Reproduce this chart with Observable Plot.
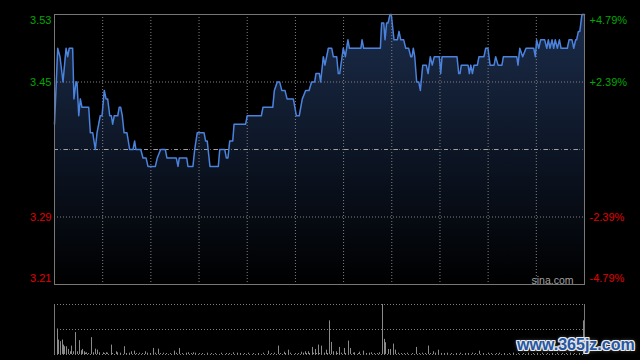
<!DOCTYPE html>
<html><head><meta charset="utf-8">
<script src="https://cdn.jsdelivr.net/npm/d3@7"></script>
<script src="https://cdn.jsdelivr.net/npm/@observablehq/plot@0.6"></script>
<style>
html,body{margin:0;padding:0;background:#000;overflow:hidden}
#wrap{position:relative;width:640px;height:360px;background:#000}
#main{position:absolute;left:0;top:0}
#vol{position:absolute;left:0;top:290px}
#wm{position:absolute;left:517px;top:337px;font:bold 16px "Liberation Sans",Arial,sans-serif;line-height:16px;color:#2456a4;white-space:nowrap;
text-shadow:1px 0 0 #e8e8e8,-1px 0 0 #e8e8e8,0 1px 0 #e8e8e8,0 -1px 0 #e8e8e8,1px 1px 0 #e8e8e8,-1px -1px 0 #e8e8e8,1px -1px 0 #e8e8e8,-1px 1px 0 #e8e8e8,0 0 4px #999}
</style></head><body>
<div id="wrap"><div id="main"></div><div id="vol"></div><div id="wm">www.365jz.com</div></div>
<script>
// ---- data (minute of session 0..330, price) ----
const sessionMinutes = [0, 330];
const basePrice = 3.37;
const priceTicks = [3.53, 3.45, 3.29, 3.21];
const priceLabels = ["3.53", "3.45", "3.29", "3.21"];
const pctLabels = ["+4.79%", "+2.39%", "-2.39%", "-4.79%"];
const gridMinutes = [30, 60, 90, 120, 150, 180, 210, 240, 270, 300];
const priceDomain = [3.21, 3.53];

const pricePoints = [
  [0,3.40],[2,3.49],[3.4,3.48],[5.3,3.45],[7.2,3.49],[8.2,3.48],[9.2,3.49],[11.3,3.49],
  [12.1,3.43],[13.4,3.45],[14,3.45],[15.1,3.41],[16.1,3.43],[17.1,3.42],[21.3,3.42],
  [22.3,3.39],[23.8,3.39],[25.4,3.37],[26.5,3.39],[28.5,3.41],[29.6,3.41],[31,3.44],
  [32.1,3.43],[33.1,3.43],[34.4,3.41],[35.4,3.41],[36.2,3.40],[37.2,3.41],[39.4,3.41],
  [40.3,3.42],[41.2,3.42],[42.2,3.41],[43.3,3.39],[45.1,3.39],[46.8,3.37],[48.9,3.37],
  [49.9,3.38],[50.7,3.37],[53.7,3.37],[55.1,3.36],[57,3.36],[58.2,3.35],[62.8,3.35],
  [64,3.36],[66.1,3.37],[69,3.37],[70,3.36],[75.8,3.36],[76.9,3.35],[77.7,3.36],
  [82.3,3.36],[83.1,3.35],[86.2,3.35],[87.3,3.37],[88.9,3.39],[93.1,3.39],[94.1,3.38],
  [95.1,3.38],[96.8,3.35],[102,3.35],[102.9,3.37],[106,3.37],[107,3.36],[108,3.36],
  [109.1,3.38],[111,3.38],[111.8,3.40],[119,3.40],[120,3.41],[128.8,3.41],[129.8,3.42],
  [135.9,3.42],[136.9,3.44],[138.7,3.45],[140.2,3.45],[141.5,3.44],[143.5,3.44],
  [144.8,3.43],[148.7,3.43],[150.6,3.41],[152.4,3.41],[154.3,3.43],[156.4,3.44],
  [158.5,3.44],[160.1,3.45],[162,3.45],[162.8,3.46],[164.9,3.46],[165.7,3.45],
  [167.4,3.48],[168.4,3.47],[170.5,3.49],[172.6,3.49],[173.6,3.48],[175.7,3.48],
  [176.7,3.46],[177.6,3.46],[179.8,3.49],[181.1,3.48],[182.7,3.50],[183.6,3.49],
  [190.8,3.49],[191.5,3.50],[192.5,3.49],[202.9,3.49],[203.7,3.52],[205,3.52],
  [205.8,3.50],[206.8,3.52],[207.7,3.52],[208.9,3.53],[209.7,3.53],[211.4,3.50],
  [213.5,3.50],[214.5,3.51],[215.6,3.50],[217.4,3.50],[218.7,3.49],[220.5,3.49],
  [221.8,3.48],[222.6,3.48],[223.4,3.49],[224.3,3.48],[225.5,3.45],[226.8,3.45],
  [227.8,3.44],[229.3,3.47],[231.5,3.47],[232.6,3.46],[234,3.48],[235.2,3.47],
  [236.5,3.48],[239.6,3.48],[240.5,3.46],[241.3,3.48],[247.5,3.48],[250.6,3.48],
  [251.7,3.46],[252.5,3.46],[253.3,3.47],[257.5,3.47],[258.3,3.46],[259.2,3.47],
  [260.2,3.46],[261.2,3.47],[263.3,3.47],[264.3,3.48],[267.4,3.48],[268.5,3.49],
  [269.9,3.49],[271.2,3.47],[273.7,3.47],[274.7,3.48],[276.2,3.47],[278.6,3.47],
  [279.5,3.48],[287.8,3.48],[288.6,3.47],[289.7,3.49],[291.5,3.48],[293.6,3.49],
  [298.4,3.49],[299.4,3.48],[300.2,3.50],[301.5,3.49],[302.7,3.50],[305.2,3.50],
  [306.5,3.49],[307.5,3.50],[308.5,3.49],[309.8,3.50],[310.8,3.49],[311.8,3.50],
  [313.1,3.49],[314.4,3.50],[315.4,3.49],[319.3,3.49],[320.4,3.50],[322.2,3.50],
  [323.3,3.49],[324.5,3.50],[325.1,3.50],[326.2,3.51],[327.1,3.51],[328.4,3.53],
  [330,3.53]
];

// volume (minute, volume units)
const volumeMax = 49.5;
const volumeBars = [
  [1.7,25.3],[2.8,14.3],[3.6,12.7],[4.7,14.3],[5.5,9.3],[6.5,7.7],[7.6,7.7],[8.6,5],
  [9.7,2.7],[10.5,8.3],[11.7,2.7],[13.0,21.7],[14.2,2.7],[15.4,13.7],[16.7,3.7],[17.7,5],
  [18.8,2.7],[20.0,1.7],[22.9,16.7],[24.2,1.7],[25.4,5.3],[26.6,4.3],[28.3,1.7],[30.4,1.7],
  [32.1,1.7],[35.4,9.3],[38.3,2.7],[39.5,1.7],[43.3,7.7],[48.1,2.7],[49.7,3.3],[56.5,2.7],
  [61.5,6],[64.6,5.3],[74.6,3.3],[77.7,6],[83.6,1.7],[86.4,1.7],[111.3,1.7],[133.1,3.3],
  [139.4,8.3],[142.9,2.3],[145.4,4.3],[153.9,2.3],[156.0,2.7],[158.0,2.7],[160.5,7],
  [162.8,5],[164.5,9.3],[166.4,8.3],[169.1,4.3],[171.1,33.3],[172.6,12],[173.6,2.7],
  [175.3,2.7],[177.3,7],[180.3,6],[182.9,13.3],[184.4,6],[187.1,1.7],[190.2,2.3],
  [192.3,3.3],[197.5,1.7],[202.2,1.7],[204.1,49.5],[205.2,15],[206.0,11.7],[207.8,5],
  [209.3,5],[211.0,10.3],[212.2,4.3],[225.5,7],[232.8,8.3],[235.9,2.7],[239.0,4.3],
  [264.9,3.3],[329.1,33.3]
];
const smallVolumeBars = [
  [19,1.3],[21,1],[27,1.3],[31,1],[33,1.3],[36,1],[41,1.3],[45,1],[47,1.3],[51,1],[53,1.3],
  [55,1],[58,1.3],[60,1],[63,1.3],[66,1],[68,1.3],[70,1],[72,1],[76,1.3],[80,1],[82,1.3],
  [85,1],[88,1.3],[90,1],[92,1],[95,1.3],[98,1],[100,1],[104,1.3],[107,1],[109,1],[114,1.3],
  [116,1],[118,1],[121,1.3],[124,1],[127,1],[130,1.3],[135,1],[137,1.3],[141,1],[144,1],
  [147,1.3],[150,1],[152,1],[155,1.3],[157,1],[159,1],[161,1.3],[163,1],[165,1],[168,1.3],
  [170,1],[176,1],[179,1.3],[181,1],[186,1.3],[189,1],[194,1],[196,1.3],[199,1],[201,1],
  [214,1.3],[216,1],[218,1],[220,1.3],[223,1],[227,1],[229,1.3],[231,1],[234,1],[237,1.3],
  [241,1],[243,1],[245,1.3],[247,1],[250,1],[253,1.3],[256,1],[258,1],[260,1.3],[262,1],
  [267,1],[270,1.3],[272,1],[275,1],[277,1.3],[280,1],[283,1],[286,1.3],[289,1],[292,1],
  [295,1.3],[298,1],[301,1],[304,1.3],[307,1],[310,1],[313,1.3],[316,1],[319,1],[321,1.3],
  [324,1],[327,1]
];

// ---- build ----
const green = "#00a800", red = "#e00000";
const prices = pricePoints.map(([m, p]) => ({m, p}));
const labels = priceTicks.map((v, i) => ({v, t: priceLabels[i], pct: pctLabels[i], c: v > basePrice ? green : red}));
const topLab = labels.filter(d => d.v === priceDomain[1]);
const botLab = labels.filter(d => d.v === priceDomain[0]);
const midLab = labels.filter(d => d.v !== priceDomain[0] && d.v !== priceDomain[1]);
const font = {background: "transparent", fontFamily: "'Liberation Sans', Arial, sans-serif", fontSize: "11px", overflow: "visible"};

function labelMarks(arr, dy) {
  return [
    Plot.text(arr, {x: sessionMinutes[0], y: "v", text: "t", fill: "c", textAnchor: "end", dx: -3, dy, fontSize: 11}),
    Plot.text(arr, {x: sessionMinutes[1], y: "v", text: "pct", fill: "c", textAnchor: "start", dx: 5, dy, fontSize: 11})
  ];
}

const main = Plot.plot({
  width: 640, height: 290,
  marginLeft: 54, marginRight: 56, marginTop: 14, marginBottom: 6,
  style: font,
  x: {domain: sessionMinutes, axis: null},
  y: {domain: priceDomain, axis: null},
  marks: [
    Plot.areaY(prices, {x: "m", y1: priceDomain[0], y2: "p", fill: "url(#pg)"}),
    Plot.ruleX(gridMinutes, {stroke: "#808080", strokeDasharray: "1,2"}),
    Plot.ruleY(priceTicks.filter(v => v !== priceDomain[0] && v !== priceDomain[1]), {stroke: "#808080", strokeDasharray: "1,2"}),
    Plot.ruleY([basePrice], {stroke: "#666", strokeDasharray: "1,2"}),
    Plot.ruleY([basePrice], {stroke: "#a0a0a0", strokeDasharray: "4,6"}),
    Plot.line(prices, {x: "m", y: "p", stroke: "#4a82dc", strokeWidth: 1.5}),
    Plot.frame({stroke: "#777"}),
    ...labelMarks(midLab, 0),
    ...labelMarks(topLab, 5.5),
    ...labelMarks(botLab, -6.5),
    Plot.text(["sina.com"], {frameAnchor: "bottom-right", dx: -11, dy: -1, fill: "#a0a0a0", fontSize: 10.5})
  ]
});
const ns = "http://www.w3.org/2000/svg";
const defs = document.createElementNS(ns, "defs");
defs.innerHTML = '<linearGradient id="pg" gradientUnits="userSpaceOnUse" x1="0" y1="14" x2="0" y2="284">' +
  '<stop offset="0" stop-color="#1b2c4a"/><stop offset="0.5" stop-color="#0d1626"/><stop offset="1" stop-color="#000"/></linearGradient>';
main.insertBefore(defs, main.firstChild);
document.getElementById("main").appendChild(main);

const vols = volumeBars.concat(smallVolumeBars).map(([m, v]) => ({m, v}));
const volPlot = Plot.plot({
  width: 640, height: 70,
  marginLeft: 54, marginRight: 56, marginTop: 14, marginBottom: 6,
  style: font,
  x: {domain: sessionMinutes, axis: null, round: true},
  y: {domain: [0, volumeMax], axis: null},
  marks: [
    Plot.ruleY([0, volumeMax / 2, volumeMax], {stroke: "#808080", strokeDasharray: "1,2"}),
    Plot.ruleX(sessionMinutes, {stroke: "#777"}),
    Plot.ruleX(vols, {x: "m", y1: 0, y2: "v", stroke: "#8a8a8a"})
  ]
});
document.getElementById("vol").appendChild(volPlot);
</script>
</body></html>
